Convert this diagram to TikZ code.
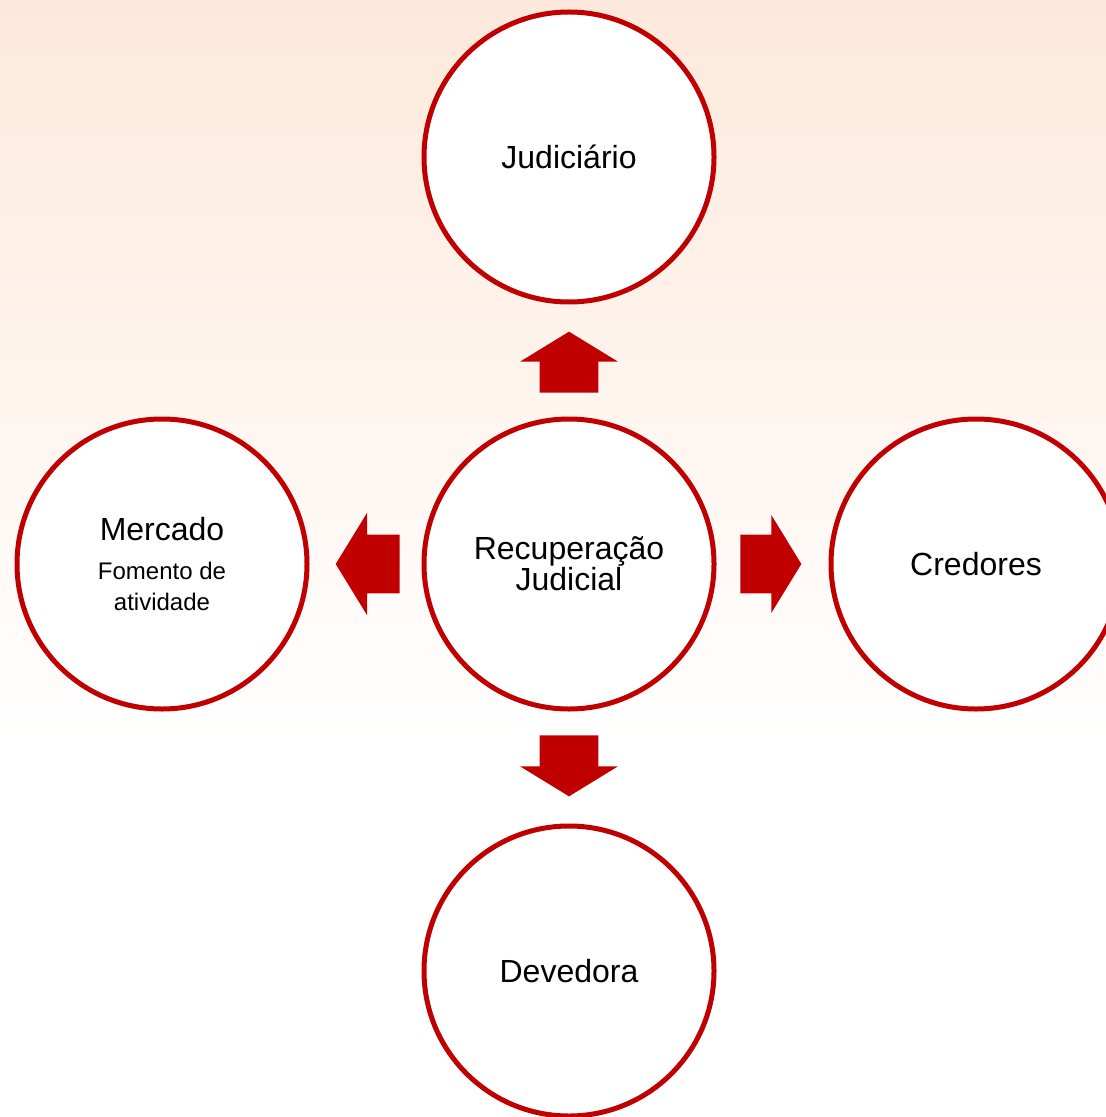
\documentclass[tikz,border=0pt]{standalone}
\usepackage{fontspec}
\setmainfont{Liberation Sans}
\usetikzlibrary{shapes,arrows,positioning,calc}
\definecolor{darkred}{RGB}{192,0,0}
\definecolor{peach}{RGB}{253,233,219}
\newcommand{\subtxt}{\fontsize{12}{15.5}\selectfont}
\tikzstyle{party} = [draw=darkred,line width=2.5pt,fill=white,circle,minimum size=145pt,inner sep=0pt,align=center,font=\fontsize{16}{15.5}\selectfont]
\tikzstyle{bigarrow} = [single arrow,fill=darkred,anchor=tail,inner xsep=0pt,inner ysep=14.5pt,minimum height=30.5pt,single arrow head extend=9.75pt,single arrow tip angle=117]

\begin{document}
\begin{tikzpicture}[x=0.5pt,y=-0.5pt,node distance=203.5pt]
  \useasboundingbox (0,0) rectangle (1106,1117);
  %background
  \fill[white] (0,0) rectangle (1106,1117);
  \shade[top color=peach,bottom color=white] (0,0) rectangle (1106,740);

  %center
  \node[party] (rj) at (569,564) {Recuperação\\Judicial};

  %around
  \node[party,above of=rj] (jud) {Judiciário};
  \node[party,below of=rj] (dev) {Devedora};
  \node[party,left of=rj] (merc) {Mercado\\[4pt]{\subtxt Fomento de}\\{\subtxt atividade}};
  \node[party,right of=rj] (cred) {Credores};

  %arrows
  \node[bigarrow,rotate=90] (toJud) at ($(rj)!0.42!(jud)$) {};
  \node[bigarrow,rotate=270] (toDev) at ($(rj)!0.42!(dev)$) {};
  \node[bigarrow,rotate=180,minimum height=32pt,single arrow head extend=11pt] (toMerc) at ($(rj)!0.415!(merc)$) {};
  \node[bigarrow] (toCred) at ($(rj)!0.42!(cred)$) {};

\end{tikzpicture}
\end{document}
